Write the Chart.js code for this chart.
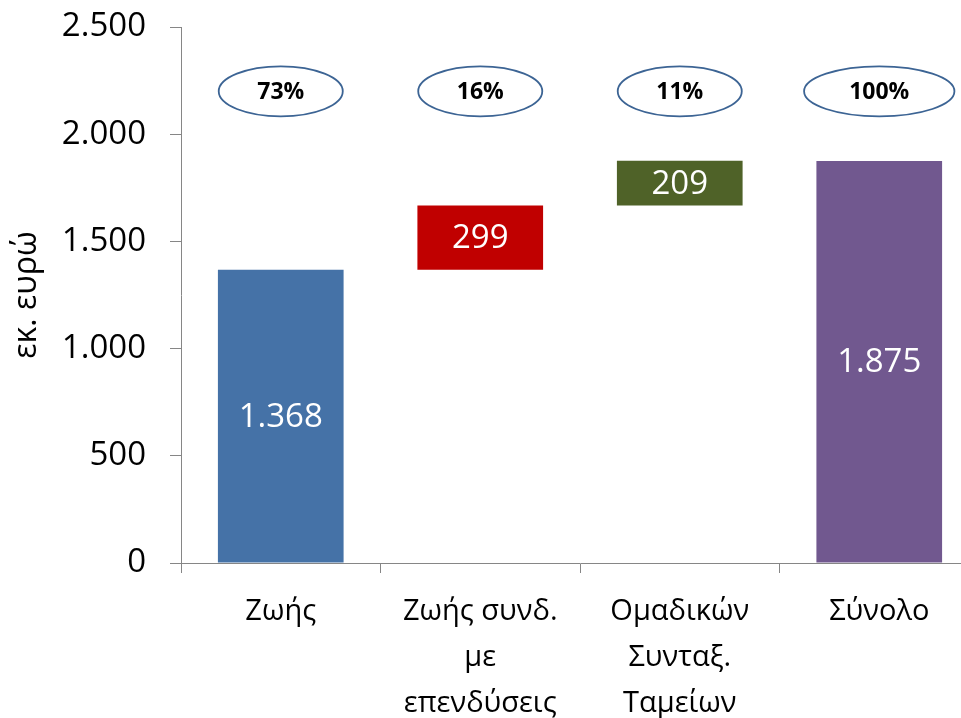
<!DOCTYPE html>
<html>
<head>
<meta charset="utf-8">
<script src="https://cdn.jsdelivr.net/npm/chart.js@4.4.1/dist/chart.umd.min.js"></script>
<style>
  html, body { margin: 0; padding: 0; background: #fff; overflow: hidden; }
  #wrap { width: 1000px; height: 718px; position: relative; }
</style>
</head>
<body>
<div id="wrap"><canvas id="myChart"></canvas></div>
<script>
// chart data
var categories = [['Ζωής'], ['Ζωής συνδ.', 'με', 'επενδύσεις'], ['Ομαδικών', 'Συνταξ.', 'Ταμείων'], ['Σύνολο']];
var barStart = [0, 1368, 1667, 0];
var barEnd = [1368, 1667, 1876, 1875];
var barValues = [1368, 299, 209, 1875];
var shares = ['73%', '16%', '11%', '100%'];
var barColors = ['#4572A7', '#C00000', '#4F6228', '#71588F'];

var PCT_LEVEL = 2200;
var FONT = '"Open Sans", "DejaVu Sans", sans-serif';

function fmt(v) {
    return String(v).replace(/\B(?=(\d{3})+(?!\d))/g, '.');
}

// white value labels inside the bars + the ellipses with the shares
var labelsPlugin = {
    id: 'labelsPlugin',
    afterDatasetsDraw: function(chart) {
        var ctx = chart.ctx;
        var meta = chart.getDatasetMeta(0);
        var xs = chart.scales.x, ys = chart.scales.y;
        ctx.save();
        ctx.textAlign = 'center';
        ctx.textBaseline = 'middle';
        meta.data.forEach(function(bar, i) {
            var mid = (bar.y + bar.base) / 2;
            ctx.fillStyle = '#fff';
            ctx.font = '33px ' + FONT;
            ctx.fillText(fmt(barValues[i]), bar.x, mid + 1);
        });
        shares.forEach(function(s, i) {
            var cx = xs.getPixelForValue(i);
            var cy = ys.getPixelForValue(PCT_LEVEL);
            ctx.font = 'bold 23px ' + FONT;
            var tw = ctx.measureText(s).width;
            var rx = 61 + Math.max(0, tw - 46);
            ctx.beginPath();
            ctx.ellipse(cx, cy, rx, 25, 0, 0, Math.PI * 2);
            ctx.fillStyle = '#fff';
            ctx.fill();
            ctx.lineWidth = 1.8;
            ctx.strokeStyle = '#3C6494';
            ctx.stroke();
            ctx.fillStyle = '#000';
            ctx.fillText(s, cx, cy + 1);
        });
        ctx.restore();
    }
};

var ctx = document.getElementById('myChart').getContext('2d');
var myChart = new Chart(ctx, {
    type: 'bar',
    data: {
        labels: categories,
        datasets: [{
            data: barStart.map(function(s, i) { return [s, barEnd[i]]; }),
            backgroundColor: barColors,
            borderWidth: 0,
            barPercentage: 0.63,
            categoryPercentage: 1.0
        }]
    },
    options: {
        responsive: true,
        maintainAspectRatio: false,
        animation: false,
        layout: { padding: { top: 0, right: 21, bottom: 0, left: 0 } },
        plugins: {
            legend: { display: false },
            tooltip: { enabled: false }
        },
        scales: {
            x: {
                grid: { drawOnChartArea: false, drawTicks: true, tickLength: 10, color: '#868686', offset: true },
                border: { color: '#868686', width: 1 },
                ticks: {
                    color: '#000',
                    font: { family: FONT, size: 29, lineHeight: 1.58 },
                    padding: 16,
                    maxRotation: 0,
                    autoSkip: false
                },
                afterFit: function(scale) { scale.height = 155; }
            },
            y: {
                min: 0,
                max: 2500,
                grid: { drawOnChartArea: false, drawTicks: true, tickLength: 11, color: '#868686' },
                border: { color: '#868686', width: 1 },
                ticks: {
                    stepSize: 500,
                    color: '#000',
                    font: { family: FONT, size: 33 },
                    padding: 24,
                    callback: function(v) { return fmt(v); }
                },
                title: {
                    display: true,
                    text: 'εκ. ευρώ',
                    color: '#000',
                    font: { family: FONT, size: 32 },
                    padding: { top: 8, bottom: 0 }
                },
                afterFit: function(scale) {
                    scale.width = 181;
                    scale.paddingTop = 27;
                }
            }
        }
    },
    plugins: [labelsPlugin]
});
</script>
</body>
</html>
